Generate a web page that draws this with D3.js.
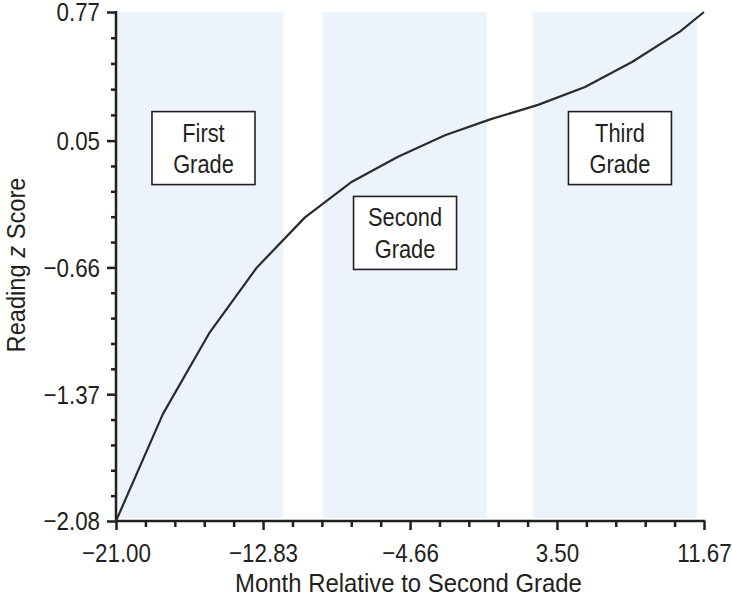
<!DOCTYPE html>
<html>
<head>
<meta charset="utf-8">
<script src="https://cdn.jsdelivr.net/npm/d3@7"></script>
<style>
  html, body { margin: 0; padding: 0; background: #fff; }
  svg text { font-family: "Liberation Sans", Arial, sans-serif; fill: #231f20; }
</style>
</head>
<body>
<svg id="chart" width="732" height="596"></svg>
<script>
// ---- data ----
const months = [-21.00, -18.39, -15.83, -13.17, -10.50, -7.89, -5.33, -2.72, -0.17, 2.45, 5.06, 7.67, 10.33, 11.67];
const zScores = [-2.08, -1.48, -1.03, -0.66, -0.38, -0.18, -0.04, 0.08, 0.17, 0.25, 0.35, 0.49, 0.66, 0.77];
const gradeNames = ["First Grade", "Second Grade", "Third Grade"];
const gradeStart = [-21.0, -9.5, 2.15];
const gradeEnd = [-11.7, -0.4, 11.3];
const labelMonth = [-16.14, -4.94, 7.0];
const labelZ = [0.008, -0.467, 0.008];
const xTickValues = [-21.00, -12.83, -4.66, 3.50, 11.67];
const xTickLabels = ["\u221221.00", "\u221212.83", "\u22124.66", "3.50", "11.67"];
const yTickValues = [-2.08, -1.37, -0.66, 0.05, 0.77];
const yTickLabels = ["\u22122.08", "\u22121.37", "\u22120.66", "0.05", "0.77"];

const FS = 26;    // font size

const svg = d3.select("#chart");
const x = d3.scaleLinear().domain([-21.0, 11.67]).range([116, 704]);
const y = d3.scaleLinear().domain([-2.08, 0.77]).range([521, 12]);

function condense(sel, xPos, sx) {
  sel.attr("x", xPos / sx).attr("transform", `scale(${sx},1)`);
}

// shaded grade bands
svg.append("g").selectAll("rect").data(gradeNames).join("rect")
  .attr("x", (d, i) => x(gradeStart[i]) + (i === 0 ? 1.5 : 0))
  .attr("y", y(0.77))
  .attr("width", (d, i) => x(gradeEnd[i]) - x(gradeStart[i]) - (i === 0 ? 1.5 : 0))
  .attr("height", y(-2.08) - y(0.77) - 3)
  .attr("fill", "#edf3fa");

// minor ticks
function minor(vals) {
  const out = [];
  for (let i = 0; i < vals.length - 1; i++) {
    const step = (vals[i + 1] - vals[i]) / 5;
    for (let k = 1; k < 5; k++) out.push(vals[i] + k * step);
  }
  return out;
}

// x axis
const xMin = svg.append("g").attr("transform", `translate(0,${y(-2.08)})`)
  .call(d3.axisBottom(x).tickValues(minor(xTickValues)).tickSize(6).tickFormat(""));
xMin.select(".domain").remove();
const xMaj = svg.append("g").attr("transform", `translate(0,${y(-2.08)})`)
  .call(d3.axisBottom(x).tickValues(xTickValues).tickSize(9)
    .tickFormat((d, i) => xTickLabels[i]));
xMaj.select(".domain").remove();
xMaj.selectAll("text").attr("font-size", FS).attr("y", 41).attr("dy", 0)
  .each(function () { condense(d3.select(this), 0, 0.86); });
svg.append("line").attr("x1", x(-21) - 1).attr("x2", x(11.67) + 1.2)
  .attr("y1", y(-2.08)).attr("y2", y(-2.08)).attr("stroke", "#231f20").attr("stroke-width", 2.5);

// y axis
const yMin = svg.append("g").attr("transform", `translate(${x(-21)},0)`)
  .call(d3.axisLeft(y).tickValues(minor(yTickValues)).tickSize(5).tickFormat(""));
yMin.select(".domain").remove();
const yMaj = svg.append("g").attr("transform", `translate(${x(-21)},0)`)
  .call(d3.axisLeft(y).tickValues(yTickValues).tickSize(9)
    .tickFormat((d, i) => yTickLabels[i]));
yMaj.select(".domain").remove();
yMaj.selectAll("text").attr("font-size", FS).attr("dy", "0.34em")
  .each(function () { condense(d3.select(this), -16, 0.86); });
svg.append("line").attr("x1", x(-21)).attr("x2", x(-21))
  .attr("y1", y(0.77) - 1).attr("y2", y(-2.08) + 1).attr("stroke", "#231f20").attr("stroke-width", 2.5);

svg.selectAll("g.tick line").attr("stroke", "#231f20").attr("stroke-width", 2.5);
svg.selectAll("g").attr("font-family", null);

// curve
const line = d3.line().x((d, i) => x(months[i])).y((d, i) => y(zScores[i]));
svg.append("path").datum(months).attr("d", line)
  .attr("fill", "none").attr("stroke", "#2b2b2b").attr("stroke-width", 2.2)
  .attr("stroke-linejoin", "round");

// grade label boxes
const boxW = 103, boxH = 73;
const lab = svg.append("g").selectAll("g").data(gradeNames).join("g")
  .attr("transform", (d, i) => `translate(${x(labelMonth[i])},${y(labelZ[i])})`);
lab.append("rect").attr("x", -boxW / 2).attr("y", -boxH / 2).attr("width", boxW).attr("height", boxH)
  .attr("fill", "#fff").attr("stroke", "#231f20").attr("stroke-width", 1.6);
lab.append("text").attr("text-anchor", "middle").attr("y", -6.5).attr("font-size", FS)
  .text(d => d.split(" ")[0]).each(function () { condense(d3.select(this), 0, 0.84); });
lab.append("text").attr("text-anchor", "middle").attr("y", 25).attr("font-size", FS)
  .text(d => d.split(" ")[1]).each(function () { condense(d3.select(this), 0, 0.84); });

// axis titles
svg.append("text").attr("y", 592).attr("text-anchor", "middle")
  .attr("font-size", FS).text("Month Relative to Second Grade")
  .call(s => condense(s, 408.5, 0.92));
const yt = svg.append("text").attr("transform", `translate(25,${265}) rotate(-90) scale(0.91,1)`)
  .attr("text-anchor", "middle").attr("font-size", FS);
yt.append("tspan").text("Reading ");
yt.append("tspan").attr("font-style", "italic").text("z");
yt.append("tspan").text(" Score");
</script>
</body>
</html>
